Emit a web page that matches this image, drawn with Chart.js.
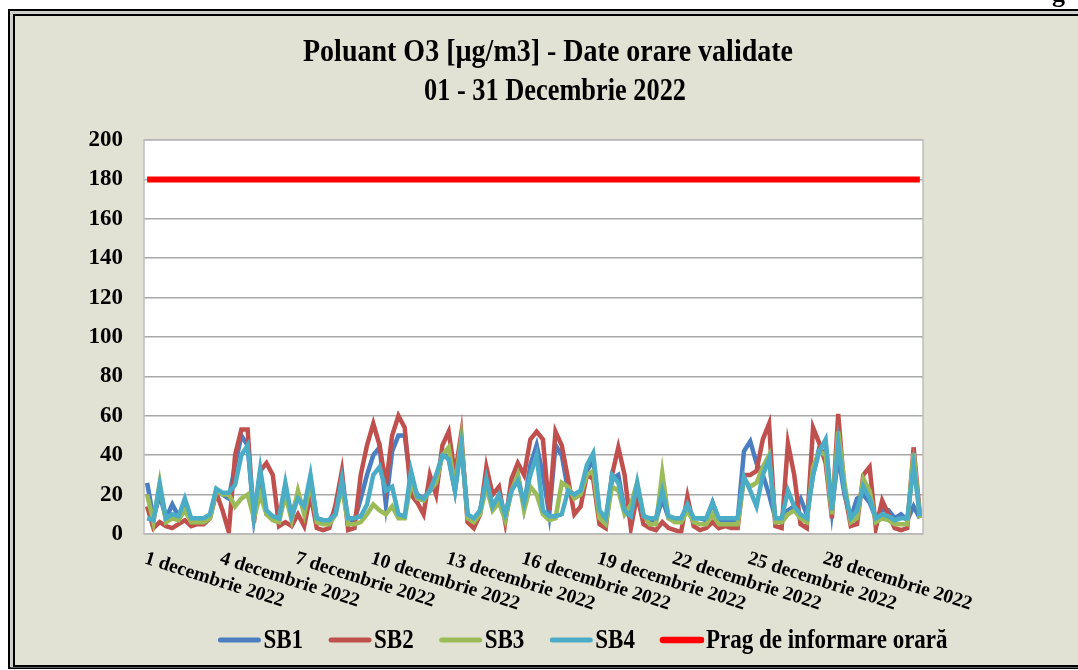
<!DOCTYPE html>
<html>
<head>
<meta charset="utf-8">
<title>Poluant O3 - Decembrie 2022</title>
<script src="https://cdn.jsdelivr.net/npm/chart.js@4.4.1/dist/chart.umd.min.js"></script>
<style>
  body { margin: 0; background: #fff; }
  canvas { display: block; }
</style>
</head>
<body>
<canvas id="o3Chart" width="1078" height="670"></canvas>
<script>
// 6-hour samples, 1 - 31 December 2022 (4 per day)
const days = Array.from({ length: 31 }, (_, i) => i + 1);
const hours = [0, 6, 12, 18];
const slots = days.flatMap(d => hours.map(h => `${d} decembrie 2022 ${String(h).padStart(2, "0")}:00`));

const tickLabels = ["1 decembrie 2022", "4 decembrie 2022", "7 decembrie 2022", "10 decembrie 2022",
    "13 decembrie 2022", "16 decembrie 2022", "19 decembrie 2022", "22 decembrie 2022",
    "25 decembrie 2022", "28 decembrie 2022"];
const tickEvery = 12; // one label every 3 days

const sb1 = [26, 8, 20, 8, 15, 9, 14, 7, 7, 7, 9,
    22, 20, 18, 35, 50, 45, 8, 30, 10, 8,
    7, 22, 10, 20, 12, 28, 8, 7, 7, 12, 28,
    5, 7, 18, 30, 40, 44, 15, 42, 50, 50,
    26, 20, 18, 22, 24, 42, 38, 22, 46, 10,
    7, 12, 26, 13, 18, 8, 22, 30, 14, 35, 45,
    30, 10, 45, 40, 22, 20, 22, 32, 38, 10, 7,
    28, 30, 12, 8, 22, 8, 7, 7, 18, 8,
    7, 7, 14, 8, 8, 7, 16, 7, 7, 7,
    7, 42, 47, 36, 30, 20, 8, 7, 12, 14,
    18, 10, 30, 44, 46, 12, 40, 20, 8, 18,
    20, 16, 8, 12, 12, 8, 10, 7, 14, 8];

const sb2 = [14, 3, 6, 4, 3, 5, 7, 4, 5, 5, 8,
    21, 12, 1, 40, 53, 53, 6, 32, 36, 30,
    4, 6, 4, 10, 4, 20, 3, 2, 3, 15, 32,
    2, 3, 30, 45, 56, 45, 25, 50, 60, 54,
    20, 16, 10, 30, 20, 45, 52, 30, 51, 6,
    3, 10, 34, 20, 24, 6, 28, 36, 30, 48, 52,
    48, 12, 52, 45, 28, 10, 14, 30, 28, 5, 3,
    30, 44, 30, 3, 20, 5, 3, 2, 6, 3,
    2, 1, 19, 4, 2, 3, 6, 3, 4, 3,
    3, 30, 30, 32, 48, 56, 4, 3, 46, 30,
    5, 3, 54, 46, 36, 8, 61, 22, 4, 5,
    30, 34, 3, 17, 10, 3, 2, 3, 44, 10];

const sb3 = [20, 6, 26, 6, 8, 7, 12, 6, 6, 6, 8,
    22, 20, 20, 14, 18, 20, 8, 20, 10, 7,
    6, 20, 7, 22, 10, 26, 6, 5, 5, 10, 24,
    5, 5, 6, 10, 15, 12, 10, 14, 8, 8,
    26, 18, 17, 22, 26, 40, 44, 24, 48, 8,
    6, 10, 24, 12, 16, 7, 22, 30, 12, 24, 20,
    10, 7, 8, 26, 24, 18, 20, 30, 32, 8, 5,
    24, 22, 10, 15, 26, 10, 5, 5, 31, 8,
    6, 6, 12, 6, 5, 5, 10, 5, 5, 5,
    5, 28, 24, 26, 34, 40, 6, 6, 10, 12,
    8, 6, 34, 42, 40, 10, 52, 26, 6, 8,
    28, 22, 6, 8, 7, 5, 5, 5, 41, 8];

const sb4 = [8, 7, 25, 8, 10, 9, 18, 8, 8, 8, 10,
    23, 21, 21, 25, 40, 45, 10, 33, 12, 9,
    8, 26, 9, 18, 14, 30, 8, 7, 7, 10, 28,
    8, 8, 9, 15, 30, 34, 22, 24, 10, 9,
    32, 19, 18, 22, 30, 40, 38, 22, 45, 10,
    8, 12, 28, 14, 20, 10, 22, 27, 16, 30, 40,
    12, 9, 9, 10, 22, 20, 22, 35, 41, 12, 8,
    30, 26, 12, 9, 26, 9, 8, 8, 22, 9,
    8, 8, 15, 8, 8, 8, 16, 8, 8, 8,
    8, 29, 22, 14, 30, 38, 8, 8, 22, 14,
    10, 8, 30, 42, 48, 12, 46, 22, 8, 12,
    24, 18, 8, 10, 9, 7, 8, 8, 35, 9];

const pragValue = 180;
const prag = slots.map(() => pragValue);

const series = [
    { label: "SB1", data: sb1, color: "#4A7EC1", width: 4.5, order: 4 },
    { label: "SB2", data: sb2, color: "#C0504D", width: 4.5, order: 3 },
    { label: "SB3", data: sb3, color: "#9BBB59", width: 4.5, order: 2 },
    { label: "SB4", data: sb4, color: "#4BACC6", width: 4.5, order: 1 },
    { label: "Prag de informare orară", data: prag, color: "#FF0000", width: 6, order: 0 }
];

const SERIF = "'Liberation Serif', 'Times New Roman', serif";

// text drawn a bit taller than wide, like the original export
function stretchedText(ctx, text, x, y, sy, maxW) {
    ctx.save();
    ctx.translate(x, y);
    const w = ctx.measureText(text).width;
    const sx = maxW && w > maxW ? maxW / w : 1;
    ctx.scale(sx, sy);
    ctx.fillText(text, 0, 0);
    ctx.restore();
}

// background, frame and plot box
const framePlugin = {
    id: "frame",
    beforeDraw(chart) {
        const { ctx, chartArea: a, width, height } = chart;
        ctx.save();
        ctx.fillStyle = "#fff";
        ctx.fillRect(0, 0, width, height);
        ctx.fillStyle = "#E2E2D4";
        ctx.fillRect(10, 11, width, height - 13);
        ctx.lineWidth = 2;
        ctx.strokeStyle = "#000";
        ctx.strokeRect(9, 10, width + 20, height - 12);
        ctx.strokeStyle = "#C8C8C8";
        ctx.strokeRect(11.5, 12.5, width + 20, height - 16);
        ctx.strokeStyle = "#000";
        ctx.strokeRect(14, 15, width + 20, height - 19);
        ctx.fillStyle = "#fff";
        ctx.fillRect(a.left, a.top, a.right - a.left, a.bottom - a.top);
        ctx.restore();
    },
    afterDraw(chart) {
        const { ctx, chartArea: a } = chart;
        const x = chart.scales.x;
        ctx.save();
        ctx.strokeStyle = "#BDBDBD";
        ctx.lineWidth = 1.5;
        ctx.strokeRect(a.left, a.top, a.right - a.left, a.bottom - a.top);

        // title
        ctx.fillStyle = "#000";
        ctx.textAlign = "center";
        ctx.textBaseline = "alphabetic";
        ctx.font = `bold 28px ${SERIF}`;
        stretchedText(ctx, "Poluant O3 [µg/m3] - Date orare validate", 548, 61, 1.15);
        stretchedText(ctx, "01 - 31 Decembrie 2022", 555, 100, 1.15, 262);

        // slanted x labels
        const half = (x.getPixelForValue(1) - x.getPixelForValue(0)) / 2;
        ctx.font = `bold 19.5px ${SERIF}`;
        ctx.textAlign = "left";
        ctx.textBaseline = "top";
        tickLabels.forEach((t, i) => {
            const px = x.getPixelForValue(i * tickEvery) - half + 4;
            ctx.save();
            ctx.translate(px, 549);
            ctx.rotate(17.5 * Math.PI / 180);
            ctx.fillText(t, 0, 0);
            ctx.restore();
        });

        // legend
        ctx.font = `bold 23px ${SERIF}`;
        ctx.textBaseline = "alphabetic";
        const sw = 42, gap = 3, space = 26;
        const widths = series.map(s => sw + gap + ctx.measureText(s.label).width);
        const total = widths.reduce((s, w) => s + w, 0) + space * (series.length - 1);
        let lx = 583 - total / 2;
        series.forEach((s, i) => {
            ctx.strokeStyle = s.color;
            ctx.lineWidth = s.width + 0.5;
            ctx.lineCap = "round";
            ctx.beginPath();
            ctx.moveTo(lx + 2, 640);
            ctx.lineTo(lx + sw - 2, 640);
            ctx.stroke();
            ctx.fillStyle = "#000";
            stretchedText(ctx, s.label, lx + sw + gap, 648, 1.15);
            lx += widths[i] + space;
        });

        // piece of the page text above the frame
        ctx.font = `bold 26px ${SERIF}`;
        ctx.fillText("g", 1052, 2);
        ctx.restore();
    }
};

new Chart(document.getElementById("o3Chart"), {
    type: "line",
    data: {
        labels: slots,
        datasets: series.map(s => ({
            label: s.label,
            data: s.data,
            borderColor: s.color,
            backgroundColor: s.color,
            borderWidth: s.width,
            pointRadius: 0,
            tension: 0,
            order: s.order
        }))
    },
    options: {
        responsive: false,
        devicePixelRatio: 1,
        animation: false,
        layout: { padding: { top: 140, right: 155, bottom: 0, left: 0 } },
        plugins: {
            legend: { display: false },
            tooltip: { enabled: false }
        },
        scales: {
            x: {
                type: "category",
                offset: true,
                grid: { display: false },
                border: { display: false },
                ticks: { display: false },
                afterFit: s => { s.height = 136; }
            },
            y: {
                min: 0,
                max: 200,
                ticks: {
                    stepSize: 20,
                    padding: 21,
                    color: "#000",
                    font: { family: SERIF, size: 23, weight: "bold" }
                },
                grid: { color: "#A8A8A8", lineWidth: 1.5, drawTicks: false },
                border: { display: false },
                afterFit: s => { s.width = 144; }
            }
        }
    },
    plugins: [framePlugin]
});
</script>
</body>
</html>
